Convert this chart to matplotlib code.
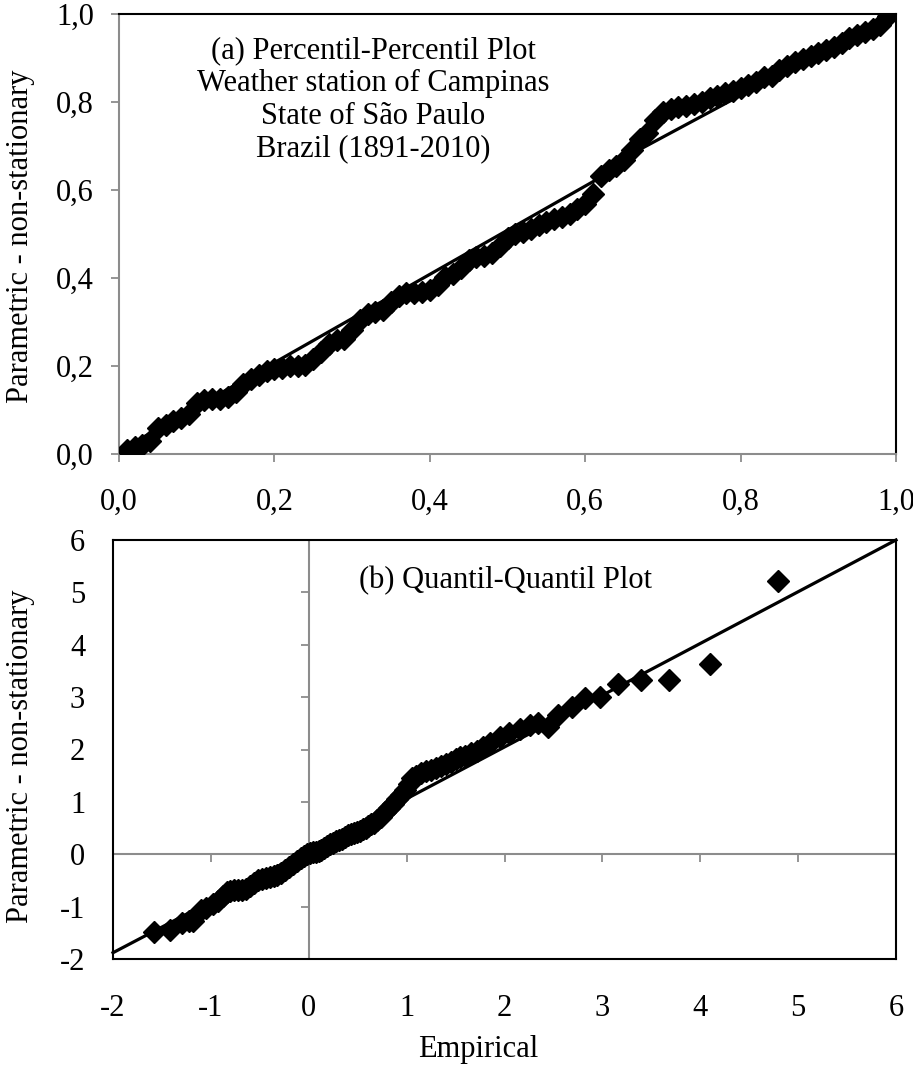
import matplotlib
matplotlib.use("Agg")
import matplotlib.pyplot as plt
from matplotlib.ticker import FuncFormatter

# ---------------- data ----------------
# (a) Percentil-Percentil plot
pp_emp = [0.01, 0.02, 0.03, 0.04, 0.05, 0.06, 0.07, 0.08, 0.09, 0.10,
          0.11, 0.12, 0.13, 0.14, 0.15, 0.16, 0.17, 0.18, 0.19, 0.20,
          0.21, 0.22, 0.23, 0.24, 0.25, 0.26, 0.27, 0.28, 0.29, 0.30,
          0.31, 0.32, 0.33, 0.34, 0.35, 0.36, 0.37, 0.38, 0.39, 0.40,
          0.41, 0.42, 0.43, 0.44, 0.45, 0.46, 0.47, 0.48, 0.49, 0.50,
          0.51, 0.52, 0.53, 0.54, 0.55, 0.56, 0.57, 0.58, 0.59, 0.60,
          0.61, 0.62, 0.63, 0.64, 0.65, 0.66, 0.67, 0.68, 0.69, 0.70,
          0.71, 0.72, 0.73, 0.74, 0.75, 0.76, 0.77, 0.78, 0.79, 0.80,
          0.81, 0.82, 0.83, 0.84, 0.85, 0.86, 0.87, 0.88, 0.89, 0.90,
          0.91, 0.92, 0.93, 0.94, 0.95, 0.96, 0.97, 0.98, 0.99]
pp_par = [0.010, 0.015, 0.020, 0.030, 0.058, 0.065, 0.075, 0.082, 0.092, 0.115,
          0.122, 0.125, 0.125, 0.130, 0.142, 0.160, 0.170, 0.180, 0.188, 0.193,
          0.195, 0.200, 0.200, 0.202, 0.215, 0.232, 0.250, 0.258, 0.262, 0.282,
          0.305, 0.318, 0.322, 0.328, 0.345, 0.360, 0.365, 0.366, 0.368, 0.372,
          0.385, 0.402, 0.410, 0.422, 0.440, 0.448, 0.450, 0.456, 0.472, 0.490,
          0.500, 0.505, 0.512, 0.520, 0.528, 0.533, 0.538, 0.545, 0.556, 0.568,
          0.592, 0.632, 0.645, 0.655, 0.668, 0.690, 0.716, 0.730, 0.758, 0.778,
          0.785, 0.788, 0.790, 0.795, 0.800, 0.808, 0.814, 0.820, 0.826, 0.832,
          0.838, 0.845, 0.856, 0.860, 0.873, 0.882, 0.890, 0.898, 0.905, 0.912,
          0.918, 0.924, 0.935, 0.945, 0.953, 0.960, 0.966, 0.975, 0.995]
pp_line_x = [0.008, 0.623, 0.668, 0.992]
pp_line_y = [0.015, 0.632, 0.690, 0.997]

# (b) Quantil-Quantil plot
qq_emp = [-1.58, -1.42, -1.30, -1.22, -1.18, -1.10, -1.05, -0.98, -0.93, -0.88,
          -0.84, -0.80, -0.76, -0.72, -0.68, -0.64, -0.60, -0.56, -0.52, -0.48,
          -0.44, -0.40, -0.36, -0.32, -0.28, -0.24, -0.20, -0.16, -0.12, -0.08,
          -0.05, -0.02, 0.01, 0.04, 0.07, 0.10, 0.13, 0.16, 0.19, 0.22,
          0.25, 0.28, 0.31, 0.34, 0.37, 0.40, 0.43, 0.46, 0.49, 0.52,
          0.55, 0.58, 0.61, 0.64, 0.67, 0.70, 0.74, 0.78, 0.82, 0.86,
          0.90, 0.94, 0.98, 1.02, 1.06, 1.10, 1.15, 1.20, 1.25, 1.30,
          1.35, 1.40, 1.45, 1.50, 1.55, 1.60, 1.66, 1.72, 1.78, 1.85,
          1.95, 2.05, 2.16, 2.26, 2.34, 2.44, 2.55, 2.69, 2.82, 2.98,
          3.16, 3.39, 3.68, 4.10, 4.79]
qq_par = [-1.49, -1.45, -1.31, -1.27, -1.28, -1.07, -1.02, -0.95, -0.90, -0.80,
          -0.72, -0.70, -0.69, -0.69, -0.68, -0.66, -0.60, -0.55, -0.50, -0.48,
          -0.46, -0.44, -0.42, -0.40, -0.35, -0.30, -0.24, -0.18, -0.13, -0.08,
          -0.03, 0.00, 0.03, 0.04, 0.05, 0.06, 0.08, 0.11, 0.15, 0.19,
          0.22, 0.25, 0.27, 0.30, 0.33, 0.36, 0.38, 0.40, 0.42, 0.45,
          0.48, 0.51, 0.54, 0.57, 0.60, 0.65, 0.72, 0.80, 0.88, 0.95,
          1.05, 1.13, 1.22, 1.35, 1.45, 1.50, 1.55, 1.58, 1.61, 1.65,
          1.69, 1.73, 1.77, 1.81, 1.85, 1.88, 1.93, 1.98, 2.05, 2.12,
          2.24, 2.32, 2.40, 2.46, 2.50, 2.43, 2.66, 2.82, 2.98, 3.00,
          3.25, 3.32, 3.32, 3.63, 5.21]
qq_line_x = [-2.0, 1.0, 6.0]
qq_line_y = [-1.88, 1.06, 6.0]

pp_ticks = [0.0, 0.2, 0.4, 0.6, 0.8, 1.0]
qq_ticks = [-2, -1, 0, 1, 2, 3, 4, 5, 6]

title_a = "(a) Percentil-Percentil Plot\nWeather station of Campinas\nState of São Paulo\nBrazil (1891-2010)"
title_b = "(b) Quantil-Quantil Plot"
ylab = "Parametric - non-stationary"
xlab = "Empirical"

# ---------------- style ----------------
plt.rcParams['font.family'] = ['Liberation Serif', 'DejaVu Serif']
plt.rcParams['axes.unicode_minus'] = False
FS = 22
GRAY = '#8c8c8c'
MS = 11.5
W, H = 913, 1066
fig = plt.figure(figsize=(W / 100, H / 100), dpi=100)

def box(l, t, r, b):
    return [l / W, 1 - b / H, (r - l) / W, (b - t) / H]

comma = FuncFormatter(lambda v, p: f"{v:.1f}".replace('.', ','))

# ---------- panel (a) ----------
ax1 = fig.add_axes(box(119, 14, 896, 454))
ax1.plot(pp_emp, pp_par, ls='none', marker='D', ms=MS, color='black', zorder=3)
ax1.plot(pp_line_x, pp_line_y, color='black', lw=2.3, zorder=4)
ax1.set_xlim(0, 1)
ax1.set_ylim(0, 1)
ax1.set_xticks(pp_ticks)
ax1.set_yticks(pp_ticks)
ax1.xaxis.set_major_formatter(comma)
ax1.yaxis.set_major_formatter(comma)
for s in ('left', 'bottom'):
    ax1.spines[s].set_color(GRAY)
    ax1.spines[s].set_linewidth(1.5)
for s in ('top', 'right'):
    ax1.spines[s].set_color('black')
    ax1.spines[s].set_linewidth(1.5)
ax1.tick_params(axis='both', direction='out', length=6, width=1.3, color=GRAY,
                labelsize=FS, labelcolor='black')
ax1.tick_params(axis='x', pad=18)
ax1.tick_params(axis='y', pad=12)
ax1.text(0.327, 0.805, title_a, ha='center', va='center', fontsize=FS,
         linespacing=1.16, multialignment='center', zorder=5)

# ---------- panel (b) ----------
ax2 = fig.add_axes(box(113, 540, 896, 959))
ax2.axhline(0, color=GRAY, lw=1.5, zorder=1)
ax2.axvline(0, color=GRAY, lw=1.5, zorder=1)
ax2.plot(qq_ticks, [0] * len(qq_ticks), ls='none', marker=3, ms=6, mew=1.3,
         color=GRAY, clip_on=False, zorder=1)
ax2.plot([0] * len(qq_ticks), qq_ticks, ls='none', marker=0, ms=6, mew=1.3,
         color=GRAY, clip_on=False, zorder=1)
ax2.plot(qq_emp, qq_par, ls='none', marker='D', ms=MS, color='black', zorder=3)
ax2.plot(qq_line_x, qq_line_y, color='black', lw=2.3, zorder=4, clip_on=False)
ax2.set_xlim(-2, 6)
ax2.set_ylim(-2, 6)
ax2.set_xticks(qq_ticks)
ax2.set_yticks(qq_ticks)
for s in ax2.spines.values():
    s.set_color('black')
    s.set_linewidth(1.5)
ax2.tick_params(axis='both', length=0, labelsize=FS, labelcolor='black')
ax2.tick_params(axis='x', pad=25)
ax2.tick_params(axis='y', pad=20)
ax2.text(2.01, 5.23, title_b, ha='center', va='center', fontsize=FS, zorder=5)

# ---------- axis titles ----------
fig.text(21 / W, 1 - 236 / H, ylab, rotation=90, ha='center', va='center', fontsize=FS)
fig.text(21 / W, 1 - 756 / H, ylab, rotation=90, ha='center', va='center', fontsize=FS)
fig.text(478 / W, 1 - 1050 / H, xlab, ha='center', va='center', fontsize=FS)

fig.savefig("out.png", dpi=100)
